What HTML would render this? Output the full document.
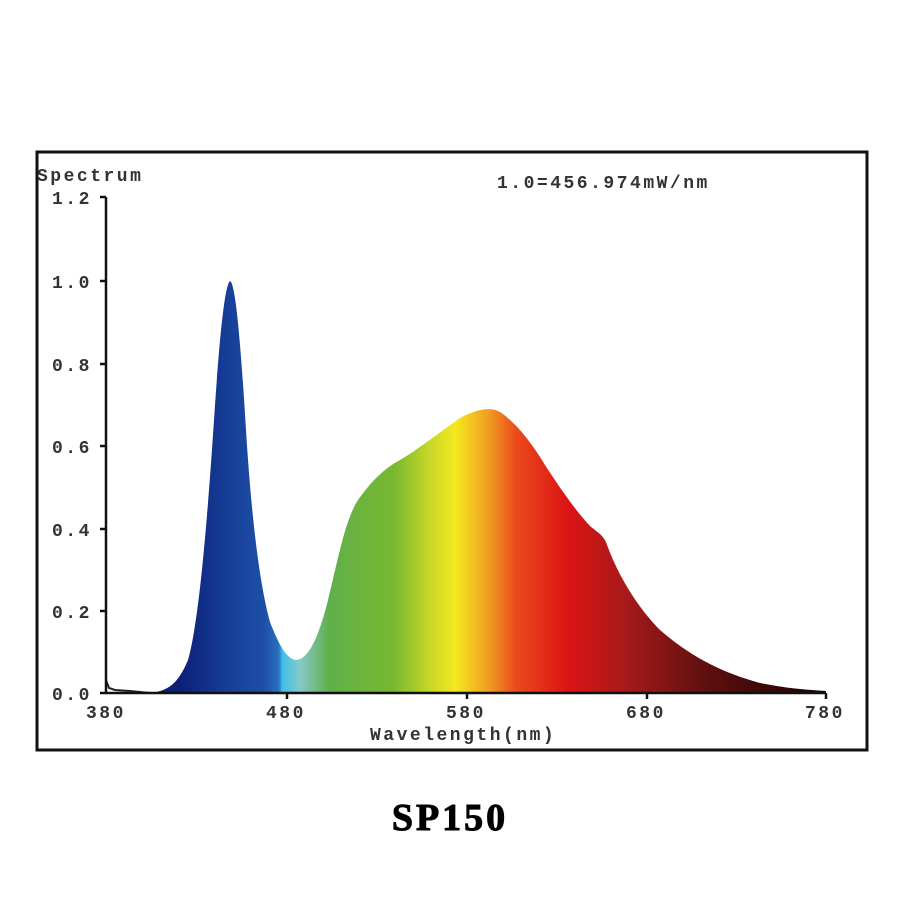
<!DOCTYPE html>
<html><head><meta charset="utf-8"><style>
body{margin:0;background:#fff;width:900px;height:900px;overflow:hidden}
svg{display:block}
</style></head><body>
<svg width="900" height="900" viewBox="0 0 900 900" xmlns="http://www.w3.org/2000/svg">
<defs>
<linearGradient id="g" gradientUnits="userSpaceOnUse" x1="106" y1="0" x2="826" y2="0">
<stop offset="0" stop-color="#0a1a70"/>
<stop offset="0.10" stop-color="#0b1e78"/>
<stop offset="0.17" stop-color="#173f98"/>
<stop offset="0.22" stop-color="#1e4fa6"/>
<stop offset="0.24" stop-color="#2a70c0"/>
<stop offset="0.245" stop-color="#40c0e8"/>
<stop offset="0.27" stop-color="#88c8c8"/>
<stop offset="0.31" stop-color="#5fb04a"/>
<stop offset="0.40" stop-color="#78b830"/>
<stop offset="0.45" stop-color="#c8d828"/>
<stop offset="0.485" stop-color="#f4e81e"/>
<stop offset="0.53" stop-color="#f0a020"/>
<stop offset="0.57" stop-color="#ea4a1c"/>
<stop offset="0.64" stop-color="#dc1414"/>
<stop offset="0.72" stop-color="#a81a1a"/>
<stop offset="0.83" stop-color="#601010"/>
<stop offset="1" stop-color="#1a0000"/>
</linearGradient>
</defs>
<rect x="37" y="152" width="830" height="598" fill="#fff" stroke="#111" stroke-width="3"/>
<path fill="url(#g)" d="M150,693 C168,691 178,684 188,660 C198,625 206,540 214,420 C220,330 225,285 230,281 C235,283 240,330 246,430 C252,525 260,585 270,622 C280,648 288,660 297,660 C308,658 318,640 328,600 C338,560 345,520 358,500 C372,480 385,468 400,460 C420,448 440,432 460,418 C475,410 490,406 500,412 C515,422 530,440 545,465 C560,488 575,510 590,526 C598,533 604,535 607,545 C620,580 640,610 660,630 C690,656 720,672 760,683 C790,689 810,690 826,691 L826,693 Z"/>
<path d="M106,693 L106,680 L109,688 L115,690 L130,691 L150,693" stroke="#222" stroke-width="2" fill="none"/>
<g stroke="#111" stroke-width="2.5" fill="none">
<path d="M106,197 L106,693 L826,693"/>
<path d="M100,197 L106,197 M100,281 L106,281 M100,364 L106,364 M100,446 L106,446 M100,529 L106,529 M100,611 L106,611 M100,693 L106,693"/>
<path d="M287,693 L287,699 M467,693 L467,699 M647,693 L647,699 M826,693 L826,699"/>
</g>
<g font-family="Liberation Mono, monospace" font-size="18" font-weight="bold" fill="#333" letter-spacing="2.5">
<text x="37" y="181">Spectrum</text>
<text x="52" y="204">1.2</text>
<text x="52" y="288">1.0</text>
<text x="52" y="371">0.8</text>
<text x="52" y="453">0.6</text>
<text x="52" y="536">0.4</text>
<text x="52" y="618">0.2</text>
<text x="52" y="700">0.0</text>
<text x="86" y="718">380</text>
<text x="266" y="718">480</text>
<text x="446" y="718">580</text>
<text x="626" y="718">680</text>
<text x="805" y="718">780</text>
<text x="370" y="740">Wavelength(nm)</text>
<text x="497" y="188">1.0=456.974mW/nm</text>
</g>
<text x="450" y="830" text-anchor="middle" font-family="Liberation Serif, serif" font-weight="bold" font-size="38" fill="#000" letter-spacing="3" stroke="#000" stroke-width="1">SP150</text>
</svg>
</body></html>
